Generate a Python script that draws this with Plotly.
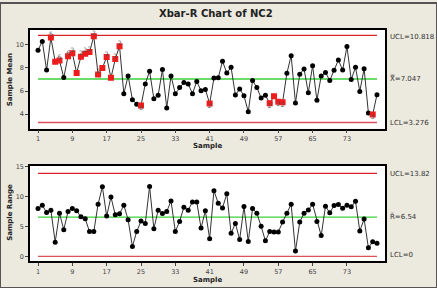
import plotly.graph_objects as go

samples = list(range(1, 81))
xbar = [9.54, 10.3, 7.82, 10.63, 8.54, 8.65, 7.17, 9.02, 9.28, 7.57,
        8.97, 9.23, 9.37, 10.74, 7.43, 8.0, 8.94, 7.14, 8.77, 9.88,
        5.77, 7.31, 5.25, 4.86, 4.74, 6.62, 7.72, 5.34, 5.63, 7.86,
        4.54, 7.31, 5.77, 6.31, 6.74, 6.62, 5.77, 6.83, 6.02, 6.14,
        4.92, 7.12, 7.14, 8.57, 7.57, 8.05, 5.66, 6.17, 5.6, 4.2,
        6.91, 6.31, 5.4, 5.63, 4.94, 5.54, 5.08, 5.03, 7.54, 9.06,
        4.97, 7.46, 7.91, 5.85, 8.2, 5.2, 7.31, 7.6, 6.91, 7.8,
        8.68, 7.82, 9.85, 7.0, 8.05, 5.97, 7.94, 4.09, 3.97, 5.68]
rng = [7.96, 8.51, 7.3, 7.69, 2.36, 7.19, 4.45, 7.47, 7.96, 7.58,
       6.59, 6.26, 4.12, 4.12, 8.68, 11.59, 6.7, 9.88, 6.92, 7.08,
       8.51, 6.1, 1.65, 4.12, 5.88, 5.49, 11.64, 4.61, 7.69, 7.14,
       7.47, 9.23, 4.12, 5.82, 8.18, 7.69, 9.06, 9.06, 4.72, 7.58,
       2.94, 10.93, 8.84, 8.07, 10.43, 3.84, 5.49, 2.8, 8.29, 2.47,
       7.96, 7.19, 5.0, 2.58, 4.12, 4.06, 4.06, 5.71, 7.19, 8.68,
       0.88, 5.71, 7.19, 7.74, 8.68, 5.82, 3.46, 8.35, 7.25, 8.46,
       8.62, 8.02, 8.51, 8.24, 9.17, 4.23, 6.21, 1.43, 2.42, 2.19]

xbar_ucl, xbar_center, xbar_lcl = 10.818, 7.047, 3.276
r_ucl, r_center, r_lcl = 13.82, 6.54, 0.0

flagged = [4, 5, 6, 8, 9, 10, 11, 12, 13, 14, 15, 16, 17, 18, 19, 20, 25, 41, 55, 56, 57, 58, 79]
flag_labels = {4: "5", 6: "6", 8: "6", 9: "2", 11: "2", 12: "2", 13: "2", 14: "2", 15: "2",
               17: "2", 19: "2", 20: "2", 25: "6", 41: "2", 55: "2", 57: "2", 58: "2", 79: "5"}

xtick_vals = [1, 9, 17, 25, 33, 41, 49, 57, 65, 73]

W, H = 437, 288
FONT = "DejaVu Sans"
RED = "#D9232B"
GREEN = "#3AD13A"

fig = go.Figure()

def limit_lines(xa, ya, ucl, cl, lcl):
    for val, col in [(ucl, RED), (lcl, "#E0505A"), (cl, GREEN)]:
        fig.add_trace(go.Scatter(x=[samples[0], samples[-1]], y=[val, val], mode="lines",
                                 line=dict(color=col, width=1.4), xaxis=xa, yaxis=ya,
                                 hoverinfo="skip", showlegend=False))

limit_lines("x", "y", xbar_ucl, xbar_center, xbar_lcl)
limit_lines("x2", "y2", r_ucl, r_center, r_lcl)

fig.add_trace(go.Scatter(x=samples, y=xbar, mode="lines+markers",
                         line=dict(color="#333333", width=1),
                         marker=dict(color="black", size=5), xaxis="x", yaxis="y", showlegend=False))
fig.add_trace(go.Scatter(x=flagged, y=[xbar[i - 1] for i in flagged], mode="markers",
                         marker=dict(color="#EE1C1C", size=6, symbol="square"),
                         xaxis="x", yaxis="y", showlegend=False))
lab_x = list(flag_labels.keys())
lab_y = [xbar[i - 1] for i in lab_x]
lab_pos = ["top center" if xbar[i - 1] > xbar_center else "bottom center" for i in lab_x]
fig.add_trace(go.Scatter(x=lab_x, y=lab_y, mode="text", text=list(flag_labels.values()),
                         textposition=lab_pos, textfont=dict(family=FONT, size=6, color="#555555"),
                         xaxis="x", yaxis="y", showlegend=False, hoverinfo="skip"))

fig.add_trace(go.Scatter(x=samples, y=rng, mode="lines+markers",
                         line=dict(color="#333333", width=1),
                         marker=dict(color="black", size=5), xaxis="x2", yaxis="y2", showlegend=False))

x0, x1 = 30 / W, 385 / W
top_dom = [1 - 127 / H, 1 - 27 / H]
bot_dom = [1 - 261 / H, 1 - 164.7 / H]

axis_common = dict(showgrid=False, zeroline=False, showline=True, linecolor="black", linewidth=1.5,
                   mirror=True, ticks="outside", ticklen=3, tickcolor="#444444",
                   tickfont=dict(family=FONT, size=6.5, color="#444444"))

fig.update_layout(
    width=W, height=H, margin=dict(l=0, r=0, t=0, b=0),
    paper_bgcolor="#ECE9DF", plot_bgcolor="white",
    xaxis=dict(domain=[x0, x1], range=[-0.87, 81.87], tickvals=xtick_vals, anchor="y", **axis_common),
    yaxis=dict(domain=top_dom, range=[2.74, 11.31], tickvals=[4, 6, 8, 10], anchor="x", **axis_common),
    xaxis2=dict(domain=[x0, x1], range=[-0.87, 81.87], tickvals=xtick_vals, anchor="y2", **axis_common),
    yaxis2=dict(domain=bot_dom, range=[-0.82, 15.05], tickvals=[0, 5, 10, 15], anchor="x2", **axis_common),
)

def ann(text, x, y, size=7, bold=False, angle=0, xanchor="left", color="#333333"):
    fig.add_annotation(text=f"<b>{text}</b>" if bold else text, x=x / W, y=1 - y / H,
                       xref="paper", yref="paper", showarrow=False, xanchor=xanchor, yanchor="middle",
                       textangle=angle, font=dict(family=FONT, size=size, color=color))

ann("Xbar-R Chart of NC2", 216, 11, size=10, bold=True, xanchor="center", color="#222222")
ann("Sample Mean", 10, 78, size=7, bold=True, angle=-90, xanchor="center", color="#222222")
ann("Sample Range", 10, 212, size=7, bold=True, angle=-90, xanchor="center", color="#222222")
ann("Sample", 207, 144.5, size=7, bold=True, xanchor="center", color="#222222")
ann("Sample", 207, 279.5, size=7, bold=True, xanchor="center", color="#222222")

ann(f"UCL={xbar_ucl}", 388, 34)
ann(f"X\u033f={xbar_center}", 388, 76)
ann(f"LCL={xbar_lcl}", 388, 121)
ann(f"UCL={r_ucl}", 388, 173)
ann(f"R\u0304={r_center}", 388, 216)
ann(f"LCL={r_lcl:g}", 388, 255)

fig.add_shape(type="rect", xref="paper", yref="paper", x0=0, y0=0, x1=1, y1=1,
              line=dict(color="#555555", width=2))

fig.write_html("out.html")
